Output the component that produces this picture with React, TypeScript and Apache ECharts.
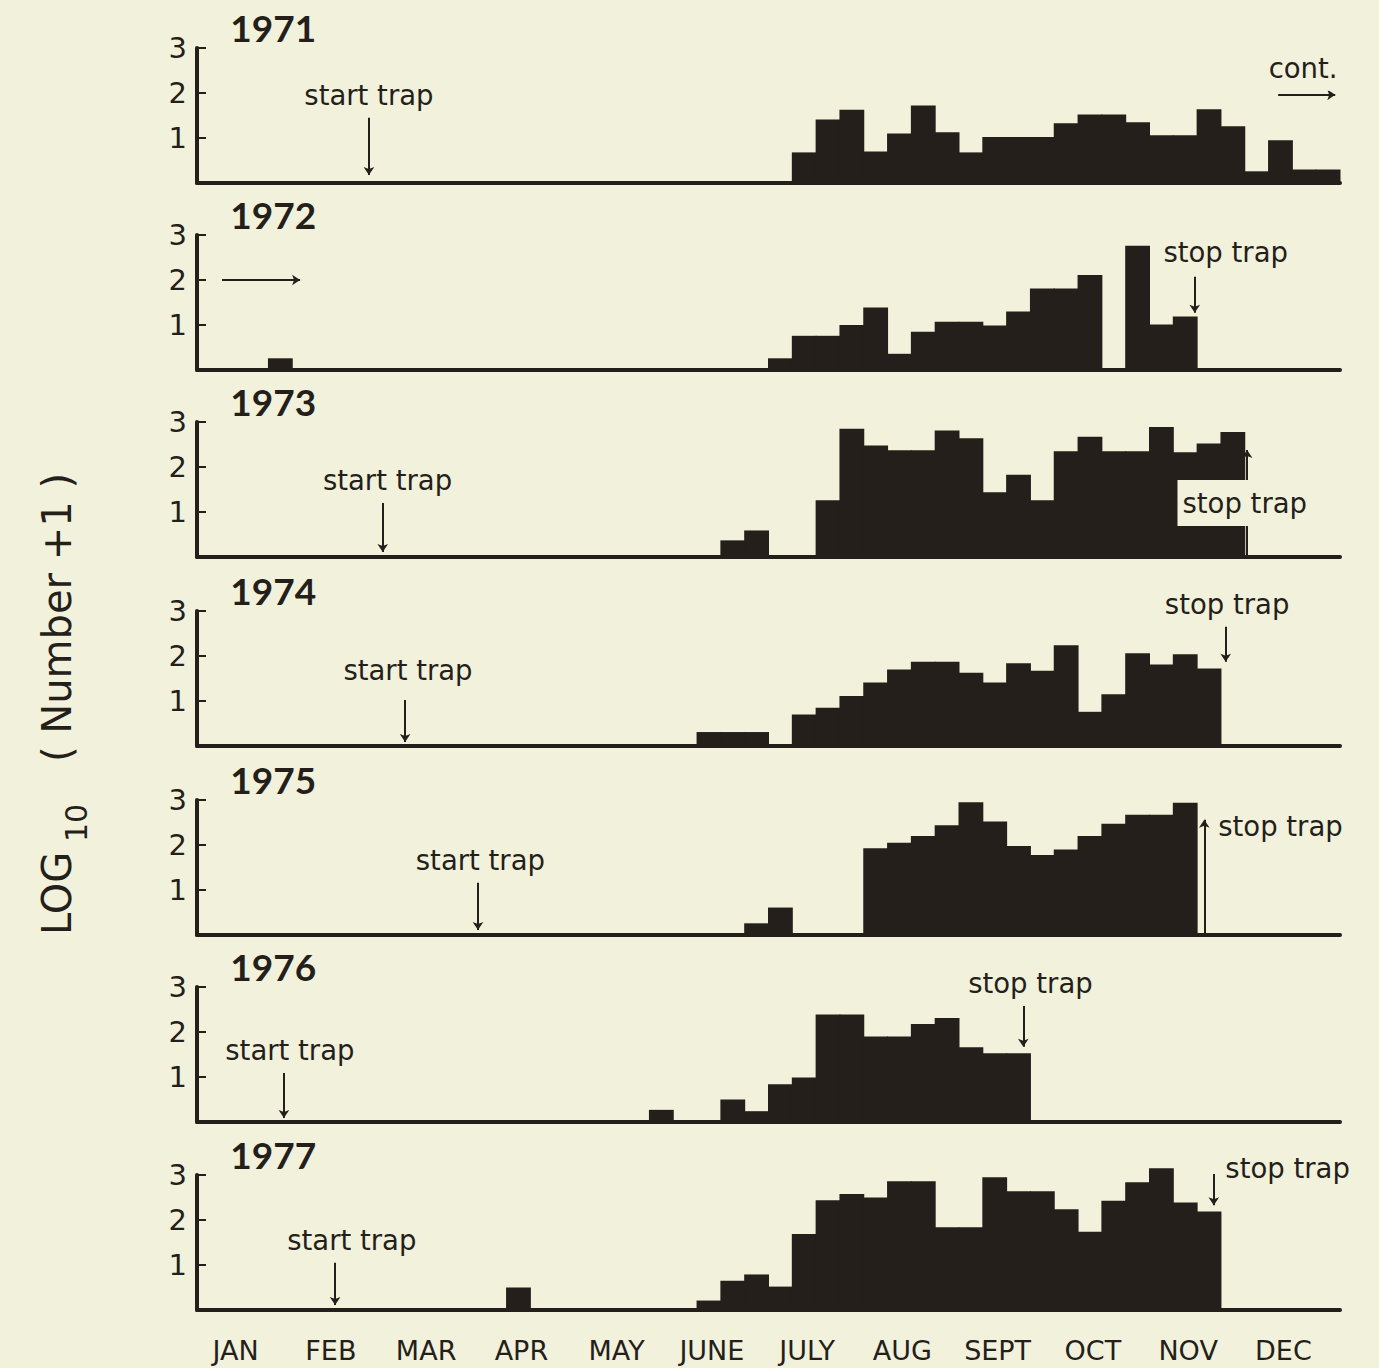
import React, { useEffect, useRef } from "react";
import * as echarts from "echarts";

// ---------- data ----------
const years = ["1971", "1972", "1973", "1974", "1975", "1976", "1977"];
const months = ["JAN", "FEB", "MAR", "APR", "MAY", "JUNE", "JULY", "AUG", "SEPT", "OCT", "NOV", "DEC"];
// 48 quarter-month periods per year
const periods = [
  "1", "2", "3", "4", "5", "6", "7", "8", "9", "10", "11", "12",
  "13", "14", "15", "16", "17", "18", "19", "20", "21", "22", "23", "24",
  "25", "26", "27", "28", "29", "30", "31", "32", "33", "34", "35", "36",
  "37", "38", "39", "40", "41", "42", "43", "44", "45", "46", "47", "48",
];
const yTicks = [0, 1, 2, 3];

// LOG10(Number + 1) per period
const y1971 = [
  0, 0, 0, 0, 0, 0, 0, 0, 0, 0,
  0, 0, 0, 0, 0, 0, 0, 0, 0, 0,
  0, 0, 0, 0, 0,
  0.68, 1.41, 1.63, 0.7, 1.1,
  1.72, 1.13, 0.68, 1.02, 1.02,
  1.02, 1.33, 1.52, 1.52, 1.35,
  1.06, 1.06, 1.64, 1.26, 0.26,
  0.95, 0.3, 0.3,
];
const y1972 = [
  0, 0, 0, 0.26, 0, 0, 0, 0, 0, 0,
  0, 0, 0, 0, 0, 0, 0, 0, 0, 0,
  0, 0, 0, 0, 0.26,
  0.76, 0.76, 1.0, 1.39, 0.36,
  0.85, 1.07, 1.07, 0.99, 1.3,
  1.81, 1.81, 2.11, 0, 2.76,
  1.01, 1.19, 0, 0, 0,
  0, 0, 0,
];
const y1973 = [
  0, 0, 0, 0, 0, 0, 0, 0, 0, 0,
  0, 0, 0, 0, 0, 0, 0, 0, 0, 0,
  0, 0, 0.37, 0.59, 0,
  0, 1.26, 2.85, 2.48, 2.37,
  2.37, 2.81, 2.64, 1.44, 1.83,
  1.26, 2.35, 2.67, 2.35, 2.35,
  2.89, 2.33, 2.52, 2.78, 0,
  0, 0, 0,
];
const y1974 = [
  0, 0, 0, 0, 0, 0, 0, 0, 0, 0,
  0, 0, 0, 0, 0, 0, 0, 0, 0, 0,
  0, 0.31, 0.31, 0.31, 0,
  0.7, 0.85, 1.11, 1.41, 1.7,
  1.87, 1.87, 1.63, 1.41, 1.84,
  1.67, 2.24, 0.76, 1.15, 2.06,
  1.81, 2.04, 1.72, 0, 0,
  0, 0, 0,
];
const y1975 = [
  0, 0, 0, 0, 0, 0, 0, 0, 0, 0,
  0, 0, 0, 0, 0, 0, 0, 0, 0, 0,
  0, 0, 0, 0.26, 0.61,
  0, 0, 0, 1.93, 2.05,
  2.2, 2.44, 2.95, 2.52, 1.98,
  1.78, 1.9, 2.2, 2.47, 2.67,
  2.67, 2.94, 0, 0, 0,
  0, 0, 0,
];
const y1976 = [
  0, 0, 0, 0, 0, 0, 0, 0, 0, 0,
  0, 0, 0, 0, 0, 0, 0, 0, 0, 0.27,
  0, 0, 0.5, 0.24, 0.84,
  0.99, 2.39, 2.39, 1.9, 1.9,
  2.18, 2.31, 1.66, 1.53, 1.53,
  0, 0, 0, 0, 0,
  0, 0, 0, 0, 0,
  0, 0, 0,
];
const y1977 = [
  0, 0, 0, 0, 0, 0, 0, 0, 0, 0,
  0, 0, 0, 0.5, 0, 0, 0, 0, 0, 0,
  0, 0.21, 0.65, 0.79, 0.52,
  1.69, 2.44, 2.58, 2.5, 2.86,
  2.86, 1.84, 1.84, 2.95, 2.64,
  2.64, 2.24, 1.74, 2.43, 2.84,
  3.15, 2.39, 2.19, 0, 0,
  0, 0, 0,
];
const yearValues = [y1971, y1972, y1973, y1974, y1975, y1976, y1977];

// annotations, in (period, log value) units: [x, y, text]
const notes1971 = [[7.22, 1.96, "start trap"], [46.45, 2.56, "cont."]];
const notes1972 = [[43.2, 2.62, "stop trap"]];
const notes1973 = [[8.0, 1.71, "start trap"], [44.0, 1.2, "stop trap"]];
const notes1974 = [[8.86, 1.69, "start trap"], [43.26, 3.16, "stop trap"]];
const notes1975 = [[11.9, 1.67, "start trap"], [45.5, 2.42, "stop trap"]];
const notes1976 = [[3.9, 1.6, "start trap"], [35.0, 3.09, "stop trap"]];
const notes1977 = [[45.8, 3.16, "stop trap"], [6.5, 1.56, "start trap"]];
const yearNotes = [notes1971, notes1972, notes1973, notes1974, notes1975, notes1976, notes1977];

// arrows: [x1, y1, x2, y2] (head at second point)
const arrows1971 = [[7.22, 1.51, 7.22, 0.18], [45.4, 1.96, 47.8, 1.96]];
const arrows1972 = [[1.05, 2.0, 4.33, 2.0], [41.9, 2.07, 41.9, 1.27]];
const arrows1973 = [[7.8, 1.27, 7.8, 0.11], [44.1, 0, 44.1, 2.38]];
const arrows1974 = [[8.74, 1.02, 8.74, 0.09], [43.2, 2.69, 43.2, 1.87]];
const arrows1975 = [[11.8, 1.22, 11.8, 0.11], [42.3, 0, 42.3, 2.56]];
const arrows1976 = [[3.65, 1.11, 3.65, 0.09], [34.7, 2.6, 34.7, 1.67]];
const arrows1977 = [[5.8, 1.07, 5.8, 0.11], [42.7, 3.33, 42.7, 2.33]];
const yearArrows = [arrows1971, arrows1972, arrows1973, arrows1974, arrows1975, arrows1976, arrows1977];

// ---------- style / layout ----------
const INK = "#241f1a";
const BG = "#f2f1dc";
const SANS = '"DejaVu Sans", "Noto Sans", sans-serif';
const YEAR_FONT = 'Lato, "Open Sans", sans-serif';
const BASELINES = [183, 370, 557, 746, 935, 1122, 1310];
const PLOT_H = 135;
const PLOT_LEFT = 197;
const PLOT_W = 1143;

function buildOption() {
  const grid: any[] = [];
  const xAxis: any[] = [];
  const yAxis: any[] = [];
  const series: any[] = [];
  const band = PLOT_W / periods.length;

  yearValues.forEach((vals, i) => {
    grid.push({ left: PLOT_LEFT, width: PLOT_W, top: BASELINES[i] - PLOT_H, height: PLOT_H });
    xAxis.push({
      type: "category",
      gridIndex: i,
      data: periods,
      boundaryGap: true,
      axisLine: { show: true, lineStyle: { color: INK, width: 4 } },
      axisTick: { show: false },
      axisLabel: { show: false },
      splitLine: { show: false },
      z: 6,
    });
    xAxis.push({ type: "value", gridIndex: i, min: 0, max: periods.length, show: false });
    yAxis.push({
      type: "value",
      gridIndex: i,
      min: yTicks[0],
      max: yTicks[yTicks.length - 1],
      interval: 1,
      axisLine: { show: true, lineStyle: { color: INK, width: 4 } },
      axisTick: { show: true, inside: true, length: 9, lineStyle: { color: INK, width: 2 } },
      axisLabel: {
        formatter: (v: number) => (v === 0 ? "" : String(v)),
        fontSize: 29,
        color: INK,
        fontFamily: SANS,
        margin: 10,
      },
      splitLine: { show: false },
      z: 6,
    });
    series.push({
      type: "bar",
      xAxisIndex: 2 * i,
      yAxisIndex: i,
      data: vals,
      barWidth: band + 1,
      barGap: "-100%",
      itemStyle: { color: INK, opacity: 1 },
      clip: false,
      silent: true,
      z: 2,
    });
    const texts = [
      {
        value: [1.4, 3.45],
        label: {
          formatter: years[i],
          fontFamily: YEAR_FONT,
          fontWeight: "bold",
          fontSize: 37,
          align: "left",
          color: INK,
        },
      },
      ...yearNotes[i].map((n: any) => ({
        value: [n[0], n[1]],
        label: {
          formatter: n[2],
          fontFamily: SANS,
          fontSize: 27.5,
          color: INK,
          align: "center",
          backgroundColor: BG,
          padding: [9, 5],
        },
      })),
    ];
    series.push({
      type: "scatter",
      xAxisIndex: 2 * i + 1,
      yAxisIndex: i,
      data: texts,
      symbolSize: 1,
      itemStyle: { color: "rgba(0,0,0,0)", opacity: 1 },
      label: { show: true, position: "inside", verticalAlign: "middle", opacity: 1, textBorderWidth: 0 },
      clip: false,
      silent: true,
      z: 10,
    });
    series.push({
      type: "lines",
      coordinateSystem: "cartesian2d",
      xAxisIndex: 2 * i + 1,
      yAxisIndex: i,
      data: yearArrows[i].map((a) => ({ coords: [[a[0], a[1]], [a[2], a[3]]] })),
      symbol: ["none", "arrow"],
      symbolSize: 8,
      lineStyle: { color: INK, width: 2, opacity: 1, curveness: 0 },
      silent: true,
      z: 8,
    });
  });

  // month labels
  const mi = yearValues.length;
  grid.push({ left: PLOT_LEFT - 9, width: PLOT_W, top: BASELINES[mi - 1] - PLOT_H, height: PLOT_H });
  xAxis.push({
    type: "category",
    gridIndex: mi,
    data: months,
    boundaryGap: true,
    axisLine: { show: false },
    axisTick: { show: false },
    axisLabel: { fontSize: 27, color: INK, fontFamily: SANS, margin: 27 },
  });
  yAxis.push({ type: "value", gridIndex: mi, show: false, min: 0, max: 3 });

  return {
    animation: false,
    backgroundColor: BG,
    grid,
    xAxis,
    yAxis,
    series,
    graphic: [
      {
        type: "text",
        x: 57,
        y: 935,
        rotation: Math.PI / 2,
        style: { text: "LOG", fontSize: 40, fontFamily: SANS, fill: INK, align: "left", verticalAlign: "middle" },
      },
      {
        type: "text",
        x: 76,
        y: 842,
        rotation: Math.PI / 2,
        style: { text: "10", fontSize: 30, fontFamily: SANS, fill: INK, align: "left", verticalAlign: "middle" },
      },
      {
        type: "text",
        x: 57,
        y: 762,
        rotation: Math.PI / 2,
        style: { text: "( Number +1 )", fontSize: 40, fontFamily: SANS, fill: INK, align: "left", verticalAlign: "middle" },
      },
    ],
  };
}

export default function App() {
  const ref = useRef<HTMLDivElement>(null);
  useEffect(() => {
    if (!ref.current) return;
    const chart = echarts.init(ref.current, undefined, { renderer: "svg" });
    chart.setOption(buildOption() as any);
    return () => chart.dispose();
  }, []);
  return (
    <div
      ref={ref}
      style={{ position: "fixed", left: 0, top: 0, width: 1379, height: 1368, background: BG }}
    />
  );
}
